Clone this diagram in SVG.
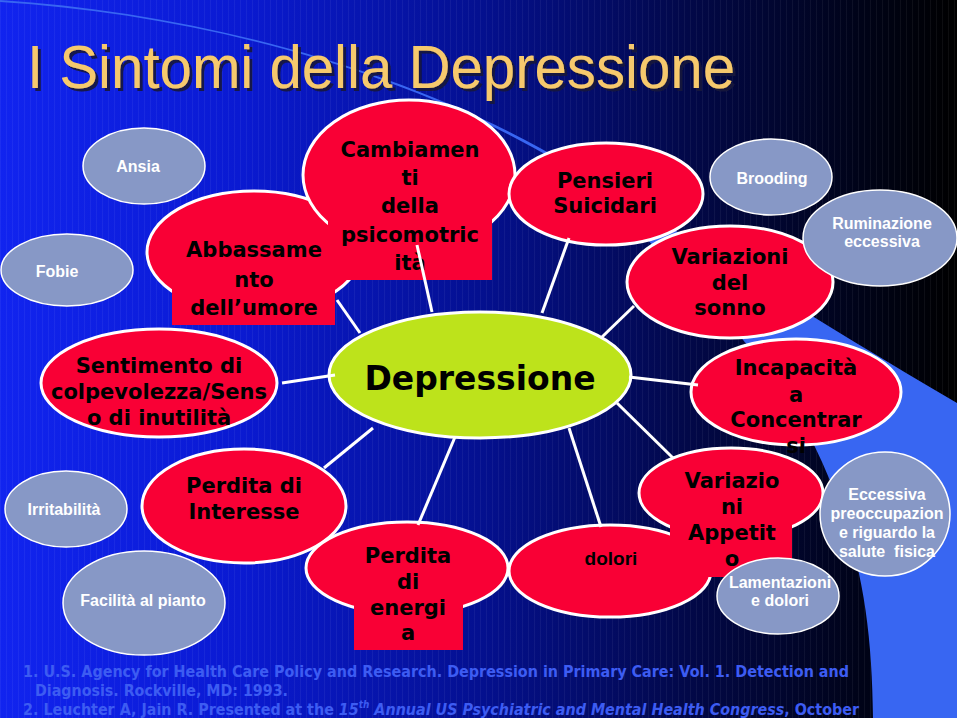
<svg xmlns="http://www.w3.org/2000/svg" width="960" height="720" viewBox="0 0 960 720">
<defs>
<linearGradient id="bg" x1="0" y1="0" x2="1" y2="0">
<stop offset="0" stop-color="#1124ef"/>
<stop offset="0.25" stop-color="#0a1ad2"/>
<stop offset="0.5" stop-color="#041090"/>
<stop offset="0.72" stop-color="#020848"/>
<stop offset="0.9" stop-color="#000318"/>
<stop offset="1" stop-color="#000000"/>
</linearGradient>
<pattern id="stripes" width="6" height="10" patternUnits="userSpaceOnUse">
<rect x="0" y="0" width="1" height="10" fill="#ffffff" opacity="0.05"/>
</pattern>
<filter id="shadow" x="-5%" y="-20%" width="110%" height="140%">
<feDropShadow dx="3" dy="3" stdDeviation="0.6" flood-color="#14143a" flood-opacity="0.9"/>
</filter>
<style>
.red{fill:#f90035;stroke:#ffffff;stroke-width:3}
.redr{fill:#f90035}
.gray{fill:#8798c6;stroke:#ffffff;stroke-width:1.5}
.green{fill:#bde31b;stroke:#ffffff;stroke-width:3}
.rt{font-family:"DejaVu Sans",Verdana,sans-serif;font-weight:bold;font-size:21px;fill:#000000;text-anchor:middle}
.gt{font-family:"Liberation Sans",Arial,sans-serif;font-weight:bold;font-size:16px;fill:#ffffff;text-anchor:middle}
.conn line{stroke:#ffffff;stroke-width:3}
.fn{font-family:"DejaVu Sans",Verdana,sans-serif;font-weight:bold;font-size:16px;fill:#3d5cf2}
.it{font-style:italic}
</style>
</defs>
<rect x="0" y="0" width="960" height="720" fill="#ffffff"/>
<rect x="0" y="0" width="957" height="718" fill="url(#bg)"/>
<rect x="0" y="0" width="957" height="718" fill="url(#stripes)"/>
<path d="M 0,0 C 180,12 380,60 540,148 C 640,205 780,300 957,403 L 957,718 L 873,718 C 872,620 860,540 815,447 C 790,400 760,355 720,315 C 670,265 620,205 560,163 C 400,67 190,14 0,2 Z" fill="#3866f2"/>
<g id="title">
<text x="27" y="88" font-family="'Liberation Sans',Arial,sans-serif" font-size="62" fill="#f6c96d" filter="url(#shadow)" textLength="708" lengthAdjust="spacingAndGlyphs">I Sintomi della Depressione</text>
</g>
<g id="ansia"><ellipse class="gray" cx="144" cy="166" rx="61" ry="38"/><text class="gt" x="138" y="172">Ansia</text></g>
<g id="fobie"><ellipse class="gray" cx="67" cy="270" rx="66" ry="36"/><text class="gt" x="57" y="277">Fobie</text></g>
<g id="abbassamento"><ellipse class="red" cx="254" cy="252" rx="107" ry="61"/><rect class="redr" x="172" y="232" width="163" height="93"/><text class="rt" x="254" y="257">Abbassame</text><text class="rt" x="254" y="287">nto</text><text class="rt" x="254" y="315">dell’umore</text></g>
<g id="cambiamenti"><ellipse class="red" cx="409" cy="175" rx="106" ry="75"/><rect class="redr" x="328" y="150" width="164" height="130"/><text class="rt" x="410" y="157">Cambiamen</text><text class="rt" x="410" y="185">ti</text><text class="rt" x="410" y="213">della</text><text class="rt" x="410" y="242">psicomotric</text><text class="rt" x="410" y="270">ità</text></g>
<g id="pensieri"><ellipse class="red" cx="606" cy="194" rx="97" ry="51"/><text class="rt" x="605" y="188">Pensieri</text><text class="rt" x="605" y="213">Suicidari</text></g>
<g id="brooding"><ellipse class="gray" cx="771" cy="177" rx="61" ry="38"/><text class="gt" x="772" y="184">Brooding</text></g>
<g id="variazioni-sonno"><ellipse class="red" cx="730" cy="282" rx="103" ry="56"/><text class="rt" x="730" y="264">Variazioni</text><text class="rt" x="730" y="290">del</text><text class="rt" x="730" y="315">sonno</text></g>
<g id="ruminazione"><ellipse class="gray" cx="880" cy="238" rx="77" ry="48"/><text class="gt" x="882" y="229">Ruminazione</text><text class="gt" x="882" y="247">eccessiva</text></g>
<g id="depressione"><ellipse class="green" cx="480" cy="375" rx="151" ry="63"/><text class="rt" x="480" y="390" style="font-size:33px">Depressione</text></g>
<g id="sentimento"><ellipse class="red" cx="159" cy="383" rx="118" ry="54"/><text class="rt" x="159" y="373">Sentimento di</text><text class="rt" x="159" y="399">colpevolezza/Sens</text><text class="rt" x="159" y="425">o di inutilità</text></g>
<g id="incapacita"><ellipse class="red" cx="796" cy="392" rx="105" ry="53"/><text class="rt" x="796" y="375">Incapacità</text><text class="rt" x="796" y="402">a</text><text class="rt" x="796" y="427">Concentrar</text><text class="rt" x="796" y="453">si</text></g>
<g id="irritabilita"><ellipse class="gray" cx="66" cy="509" rx="61" ry="38"/><text class="gt" x="64" y="515">Irritabilità</text></g>
<g id="perdita-interesse"><ellipse class="red" cx="244" cy="506" rx="102" ry="57"/><text class="rt" x="244" y="493">Perdita di</text><text class="rt" x="244" y="519">Interesse</text></g>
<g id="facilita"><ellipse class="gray" cx="144" cy="603" rx="81" ry="52"/><text class="gt" x="143" y="606">Facilità al pianto</text></g>
<g id="perdita-energia"><ellipse class="red" cx="407" cy="568" rx="101" ry="46"/><rect class="redr" x="354" y="542" width="109" height="108"/><text class="rt" x="408" y="563">Perdita</text><text class="rt" x="408" y="589">di</text><text class="rt" x="408" y="615">energi</text><text class="rt" x="408" y="640">a</text></g>
<g id="dolori"><ellipse class="red" cx="610" cy="571" rx="101" ry="46"/><text x="611" y="565" font-family="'Liberation Sans',Arial,sans-serif" font-weight="bold" font-size="19" fill="#000000" text-anchor="middle">dolori</text></g>
<g id="variazioni-appetito"><ellipse class="red" cx="731" cy="493" rx="92" ry="45"/><rect class="redr" x="670" y="472" width="122" height="105"/><text class="rt" x="732" y="488">Variazio</text><text class="rt" x="732" y="514">ni</text><text class="rt" x="732" y="540">Appetit</text><text class="rt" x="732" y="566">o</text></g>
<g id="eccessiva"><ellipse class="gray" cx="885" cy="514" rx="65" ry="62"/><text class="gt" x="887" y="500">Eccessiva</text><text class="gt" x="887" y="519">preoccupazion</text><text class="gt" x="887" y="538">e riguardo la</text><text class="gt" x="887" y="557" xml:space="preserve">salute  fisica</text></g>
<g id="lamentazioni"><ellipse class="gray" cx="778" cy="596" rx="61" ry="38"/><text class="gt" x="780" y="588">Lamentazioni</text><text class="gt" x="780" y="606">e dolori</text></g>
<g id="connectors" class="conn">
<line x1="337" y1="300" x2="360" y2="333"/>
<line x1="417" y1="245" x2="432" y2="312"/>
<line x1="569" y1="238" x2="542" y2="313"/>
<line x1="634" y1="306" x2="602" y2="337"/>
<line x1="282" y1="383" x2="335" y2="375"/>
<line x1="373" y1="428" x2="324" y2="468"/>
<line x1="455" y1="437" x2="418" y2="525"/>
<line x1="569" y1="428" x2="601" y2="527"/>
<line x1="617" y1="403" x2="673" y2="458"/>
<line x1="629" y1="377" x2="698" y2="385"/>
</g>
<g id="footnotes">
<text class="fn" x="23" y="677" textLength="826" lengthAdjust="spacingAndGlyphs">1. U.S. Agency for Health Care Policy and Research. Depression in Primary Care: Vol. 1. Detection and</text>
<text class="fn" x="35" y="696" textLength="253" lengthAdjust="spacingAndGlyphs">Diagnosis. Rockville, MD: 1993.</text>
<text class="fn" x="23" y="715" textLength="836" lengthAdjust="spacingAndGlyphs">2. Leuchter A, Jain R. Presented at the <tspan class="it">15</tspan><tspan class="it" dy="-7" style="font-size:10px">th</tspan><tspan class="it" dy="7"> Annual US Psychiatric and Mental Health Congress</tspan>, October</text>
</g>
</svg>
